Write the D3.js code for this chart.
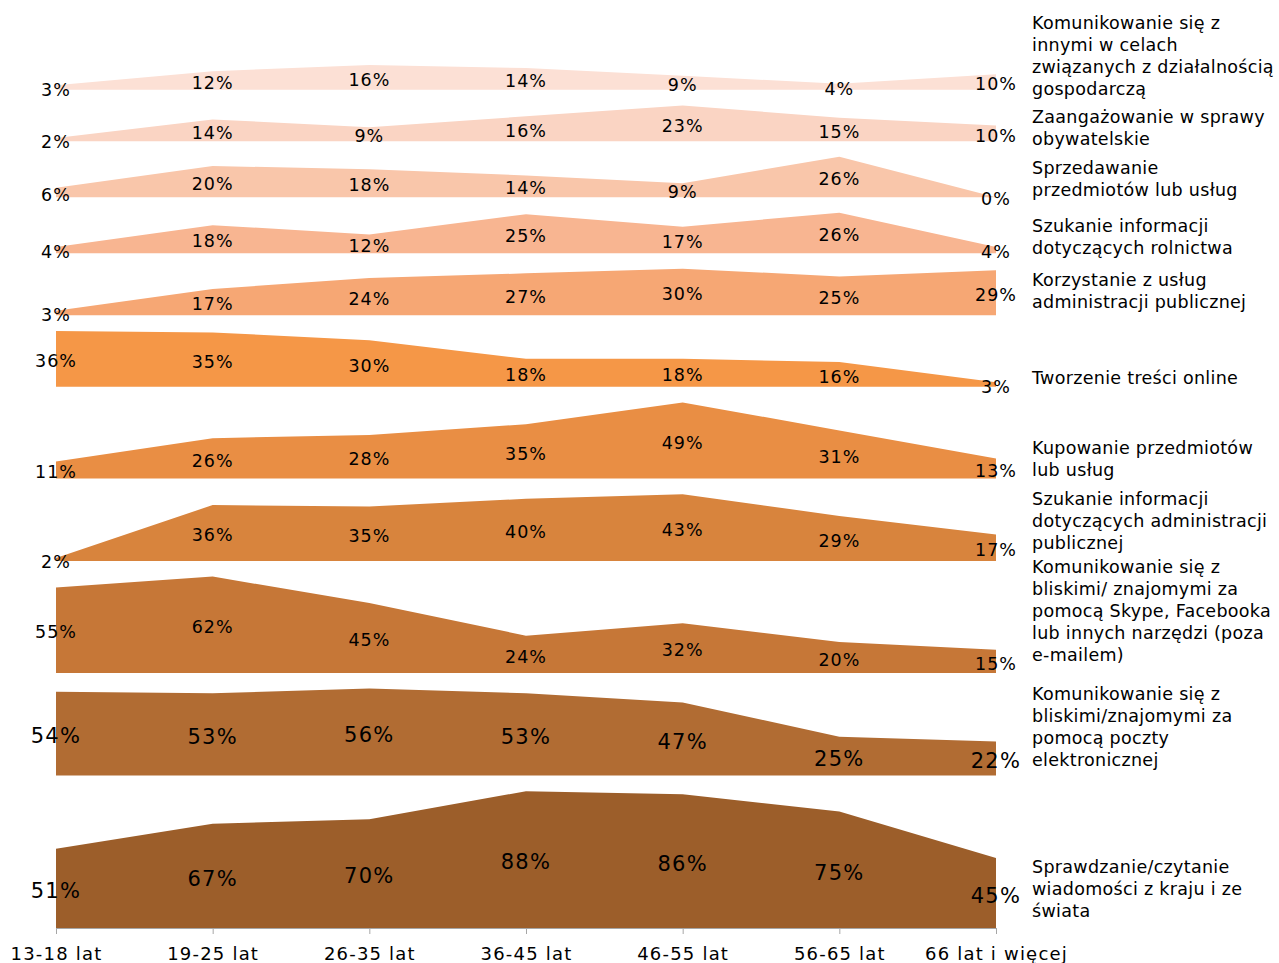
<!DOCTYPE html>
<html><head><meta charset="utf-8">
<script src="https://cdn.jsdelivr.net/npm/d3@7/dist/d3.min.js"></script>
<style>body{margin:0;background:#fff}svg{display:block;font-family:"DejaVu Sans",Verdana,sans-serif}</style>
</head><body><svg id="c" width="1279" height="963"></svg>
<script>
const categories = ["13-18 lat","19-25 lat","26-35 lat","36-45 lat","46-55 lat","56-65 lat","66 lat i więcej"];
// series listed from top band to bottom band
const seriesNames = [
  "Komunikowanie się z innymi w celach związanych z działalnością gospodarczą",
  "Zaangażowanie w sprawy obywatelskie",
  "Sprzedawanie przedmiotów lub usług",
  "Szukanie informacji dotyczących rolnictwa",
  "Korzystanie z usług administracji publicznej",
  "Tworzenie treści online",
  "Kupowanie przedmiotów lub usług",
  "Szukanie informacji dotyczących administracji publicznej",
  "Komunikowanie się z bliskimi/ znajomymi za pomocą Skype, Facebooka lub innych narzędzi (poza e-mailem)",
  "Komunikowanie się z bliskimi/znajomymi za pomocą poczty elektronicznej",
  "Sprawdzanie/czytanie wiadomości z kraju i ze świata"
];
const legendLines = [
  ["Komunikowanie się z","innymi w celach","związanych z działalnością","gospodarczą"],
  ["Zaangażowanie w sprawy","obywatelskie"],
  ["Sprzedawanie","przedmiotów lub usług"],
  ["Szukanie informacji","dotyczących rolnictwa"],
  ["Korzystanie z usług","administracji publicznej"],
  ["Tworzenie treści online"],
  ["Kupowanie przedmiotów","lub usług"],
  ["Szukanie informacji","dotyczących administracji","publicznej"],
  ["Komunikowanie się z","bliskimi/ znajomymi za","pomocą Skype, Facebooka","lub innych narzędzi (poza","e-mailem)"],
  ["Komunikowanie się z","bliskimi/znajomymi za","pomocą poczty","elektronicznej"],
  ["Sprawdzanie/czytanie","wiadomości z kraju i ze","świata"]
];
const s01 = [3,12,16,14,9,4,10];
const s02 = [2,14,9,16,23,15,10];
const s03 = [6,20,18,14,9,26,0];
const s04 = [4,18,12,25,17,26,4];
const s05 = [3,17,24,27,30,25,29];
const s06 = [36,35,30,18,18,16,3];
const s07 = [11,26,28,35,49,31,13];
const s08 = [2,36,35,40,43,29,17];
const s09 = [55,62,45,24,32,20,15];
const s10 = [54,53,56,53,47,25,22];
const s11 = [51,67,70,88,86,75,45];
const seriesValues = [s01,s02,s03,s04,s05,s06,s07,s08,s09,s10,s11];

// layout / style
const colors = ["#FCE0D5","#FAD4C3","#F9C6AA","#F8B591","#F6A774","#F59747","#E98E44","#D8843D","#C67737","#B16C33","#9C5E2A"];
const gap = 10;               // spacing between bands, in % units
const legendFirstY = [23,117,168,226,280,378,448,499,567,694,867];
const lineH = 22;

const svg = d3.select("#c");
const x = d3.scalePoint().domain(categories).range([56, 996]);
const y = d3.scaleLinear().domain([0, 560]).range([928, 928 - 560*1.555]);

// baselines computed bottom-up
const n = seriesValues.length;
const base = new Array(n);
let acc = 0;
for (let i = n-1; i >= 0; i--) {
  base[i] = acc;
  acc += d3.max(seriesValues[i]) + gap;
}

const area = d3.area()
  .x((d,i) => x(categories[i]))
  .y0(d => y(d.b))
  .y1(d => y(d.b + d.v));

seriesValues.forEach((vals, i) => {
  const pts = vals.map(v => ({v, b: base[i]}));
  svg.append("path").attr("d", area(pts)).attr("fill", colors[i]);
});

// axis
const ax = svg.append("g").attr("transform", `translate(0,${y(0)})`)
  .call(d3.axisBottom(x).tickSize(6).tickPadding(13).tickSizeOuter(0));
ax.select(".domain").attr("stroke", "#A6A6A6");
ax.selectAll(".tick line").attr("stroke", "#A6A6A6");
ax.selectAll(".tick text").attr("font-size", 18).attr("fill", "#000")
  .attr("letter-spacing", "1.2px")
  .attr("font-family", '"DejaVu Sans",Verdana,sans-serif');

// value labels
seriesValues.forEach((vals, i) => {
  const big = i >= 9;
  svg.append("g").selectAll("text").data(vals).join("text")
    .attr("x", (d,j) => x(categories[j]))
    .attr("y", d => y(base[i] + d/2))
    .attr("dy", "0.47em")
    .attr("text-anchor", "middle")
    .attr("font-size", big ? 21 : 17.5)
    .attr("letter-spacing", big ? "1.3px" : "1px")
    .attr("fill", "#000")
    .text(d => d + "%");
});

// legend
legendLines.forEach((lines, i) => {
  const t = svg.append("text").attr("font-size", 17.5).attr("letter-spacing", "0.3px").attr("fill", "#000");
  lines.forEach((ln, k) => {
    t.append("tspan").attr("x", 1032).attr("y", legendFirstY[i] + k*lineH).attr("dy","0.36em").text(ln);
  });
});
</script></body></html>
